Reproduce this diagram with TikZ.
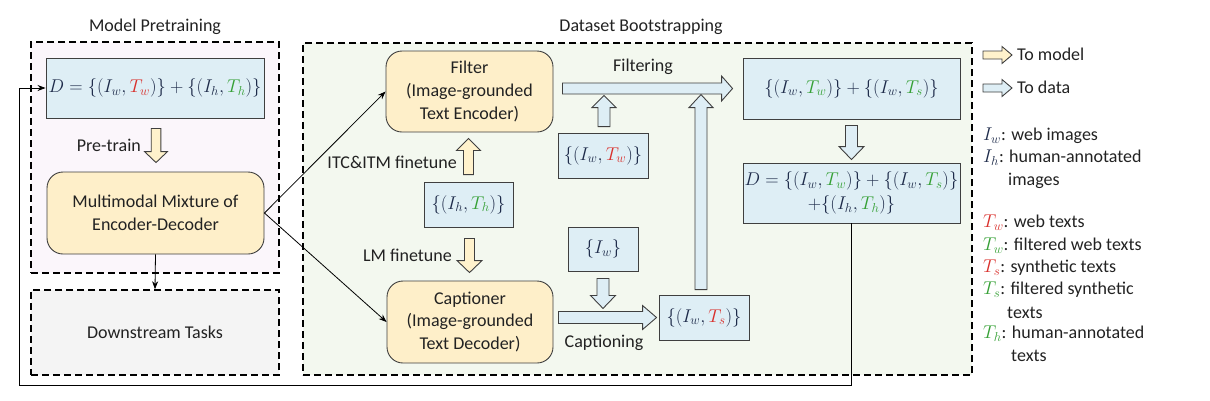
\RequirePackage{fix-cm}
\documentclass[tikz,border=0pt]{standalone}
\usepackage{fontspec}
\setmainfont{Carlito}
\usetikzlibrary{calc,arrows.meta}
\definecolor{boxblue}{HTML}{DEEEF5}
\definecolor{boxyellow}{HTML}{FEEFC9}
\definecolor{arryellow}{HTML}{FFF2CC}
\definecolor{prefill}{HTML}{FBF6FB}
\definecolor{bootfill}{HTML}{F3F8EF}
\definecolor{downfill}{HTML}{F4F4F4}
\definecolor{bord}{HTML}{3F3F3F}
\definecolor{tred}{HTML}{D9302C}
\definecolor{tgreen}{HTML}{35A035}
\definecolor{inavy}{HTML}{1E2B4A}
\definecolor{txt}{HTML}{222222}
\newcommand\blockarr[6]{%
  \path[#1] let \p1=(#2), \p2=(#3), \n1={atan2(\y2-\y1,\x2-\x1)}, \n2={veclen(\x2-\x1,\y2-\y1)} in
  [shift={(\p1)}, rotate=\n1] (0pt,-#4pt) -- ({\n2-#6pt},-#4pt) -- ({\n2-#6pt},-#5pt) -- ({\n2+0pt},0pt)
  -- ({\n2-#6pt},#5pt) -- ({\n2-#6pt},#4pt) -- (0pt,#4pt) -- cycle;}
\newcommand\Tr[1]{\textcolor{tred}{T_{#1}}}
\newcommand\Tg[1]{\textcolor{tgreen}{T_{#1}}}
\newcommand\mfs{\fontsize{18.5}{22.5}\selectfont}
\tikzset{
  dbox/.style={draw=black, line width=1.5pt, dash pattern=on 7pt off 4pt, inner sep=0pt},
  bbox/.style={draw=bord, fill=boxblue, line width=0.9pt, inner sep=0pt, text=inavy, align=center, font=\mfs},
  ybox/.style={draw=bord, fill=boxyellow, rounded corners=16pt, line width=0.9pt, align=center, inner sep=0pt},
  thinarrow/.style={draw=black, line width=0.8pt, -{Stealth[length=8pt,width=6pt]}},
  yarrow/.style={draw=bord, fill=arryellow, line width=0.9pt},
  barrow/.style={draw=bord, fill=boxblue, line width=0.9pt},
  lab/.style={inner sep=0pt},
}
\begin{document}
\begin{tikzpicture}[x=1pt,y=-1pt, font=\fontsize{18}{22.8}\selectfont, text=txt]
\useasboundingbox (0,0) rectangle (1210,400);
% containers
\node[dbox, fill=prefill, minimum width=248pt, minimum height=231pt] (pre) at (155,157.5) {};
\node[dbox, fill=downfill, minimum width=248pt, minimum height=85pt] (down) at (155,332.5) {Downstream Tasks};
\node[dbox, fill=bootfill, minimum width=669pt, minimum height=332pt] (boot) at (637.5,209) {};
\node[lab] (tpre) at (155,27) {Model Pretraining};
\node[lab] (tboot) at (641,27) {Dataset Bootstrapping};
% left column
\node[bbox, minimum width=218pt, minimum height=60pt] (D) at (155,88)
  {$D=\{(I_w,\Tr{w})\}+\{(I_h,\Tg{h})\}$};
\node[ybox, minimum width=217pt, minimum height=82pt] (mmed) at (155.5,213)
  {Multimodal Mixture of\\Encoder-Decoder};
% middle column
\node[ybox, minimum width=167pt, minimum height=81pt] (filter) at (469.5,91.5)
  {Filter\\(Image-grounded\\Text Encoder)};
\node[ybox, minimum width=166pt, minimum height=82pt] (capt) at (470,322)
  {Captioner\\(Image-grounded\\Text Decoder)};
\node[bbox, minimum width=89pt, minimum height=45pt] (ih) at (468.5,204.5) {$\{(I_h,\Tg{h})\}$};
\node[bbox, minimum width=90pt, minimum height=45pt] (iwtw) at (603,155.5) {$\{(I_w,\Tr{w})\}$};
\node[bbox, minimum width=70pt, minimum height=44pt] (iw) at (603,249) {$\{I_w\}$};
\node[bbox, minimum width=90pt, minimum height=45pt] (iwts) at (704,317.5) {$\{(I_w,\Tr{s})\}$};
% right column
\node[bbox, minimum width=217pt, minimum height=61pt] (filt) at (851.5,88.5)
  {$\{(I_w,\Tg{w})\}+\{(I_w,\Tg{s})\}$};
\node[bbox, minimum width=217pt, minimum height=60pt] (dfinal) at (851.5,193)
  {$D=\{(I_w,\Tg{w})\}+\{(I_w,\Tg{s})\}$\\[1pt]$+\{(I_h,\Tg{h})\}$};
% labels
\node[lab, anchor=east] (lpre) at (141,145) {Pre-train};
\node[lab, anchor=east] (litc) at (457,162) {ITC\&ITM finetune};
\node[lab, anchor=east] (llm) at (452,255) {LM finetune};
\node[lab] (lfilt) at (643,67) {Filtering};
\node[lab] (lcap) at (604,343) {Captioning};
% thin connectors
\draw[thinarrow] (mmed.east) -- (filter.west);
\draw[thinarrow] (mmed.east) -- (capt.west);
\draw[thinarrow] (mmed.south) -- (down.north);
\coordinate (fb) at (19,385);
\draw[thinarrow] (dfinal.south) -- (dfinal.south |- fb) -- (fb) |- (D.west);
% block arrows
\blockarr{yarrow}{$(D.south)+(1,10)$}{$(D.south |- mmed.north)+(1,-9)$}{4.8}{11.5}{11}
\blockarr{yarrow}{$(ih.north)+(0,-7)$}{$(ih.north |- filter.south)+(0,6)$}{5}{12}{12}
\blockarr{yarrow}{$(ih.south)+(1,11)$}{$(ih.south |- capt.north)+(1,-8)$}{5}{12.5}{12}
\blockarr{barrow}{$(iw.south)+(0,7)$}{$(iw.south)+(0,37)$}{6}{12.5}{13}
\blockarr{barrow}{$(capt.east |- iwts.west)+(5,0)$}{$(iwts.west)+(-2,0)$}{6}{12}{14}
\blockarr{barrow}{$(iwts.north)+(-3,-5)$}{$(iwts.north)+(-3,-200)$}{6}{12}{13}
\blockarr{barrow}{$(iwtw.north)+(1,-6)$}{$(iwtw.north)+(1,-37)$}{6}{12}{12}
\blockarr{barrow}{$(filter.east |- filt.west)+(9,0)$}{$(filt.west)+(-10,0)$}{5.5}{12.5}{11}
\blockarr{barrow}{$(filt.south)+(0,6)$}{$(dfinal.north)+(0,-3)$}{6}{12.5}{13}
% legend
\coordinate (lma) at (983,55); \coordinate (lmb) at (1012,55);
\coordinate (lda) at (983,88); \coordinate (ldb) at (1012,88);
\blockarr{yarrow}{lma}{lmb}{4}{8.5}{10}
\blockarr{barrow}{lda}{ldb}{4}{8.5}{10}
\node[lab, anchor=west] (tm) at (1017,54) {To model};
\node[lab, anchor=west] (td) at (1017,87) {To data};
\node[lab, anchor=west] (g1) at (983,136) {{\mfs\color{inavy}$I_w$}: web images};
\node[lab, anchor=west] (g2) at (983,158) {{\mfs\color{inavy}$I_h$}: human-annotated};
\node[lab, anchor=west] (g2b) at (1008,181) {images};
\node[lab, anchor=west] (g3) at (983,223) {{\mfs$\Tr{w}$}: web texts};
\node[lab, anchor=west] (g4) at (983,246) {{\mfs$\Tg{w}$}: filtered web texts};
\node[lab, anchor=west] (g5) at (983,268) {{\mfs$\Tr{s}$}: synthetic texts};
\node[lab, anchor=west] (g6) at (983,290) {{\mfs$\Tg{s}$}: filtered synthetic};
\node[lab, anchor=west] (g6b) at (1007,313) {texts};
\node[lab, anchor=west] (g7) at (983,334) {{\mfs$\Tg{h}$}: human-annotated};
\node[lab, anchor=west] (g7b) at (1011,356) {texts};
\end{tikzpicture}
\end{document}
